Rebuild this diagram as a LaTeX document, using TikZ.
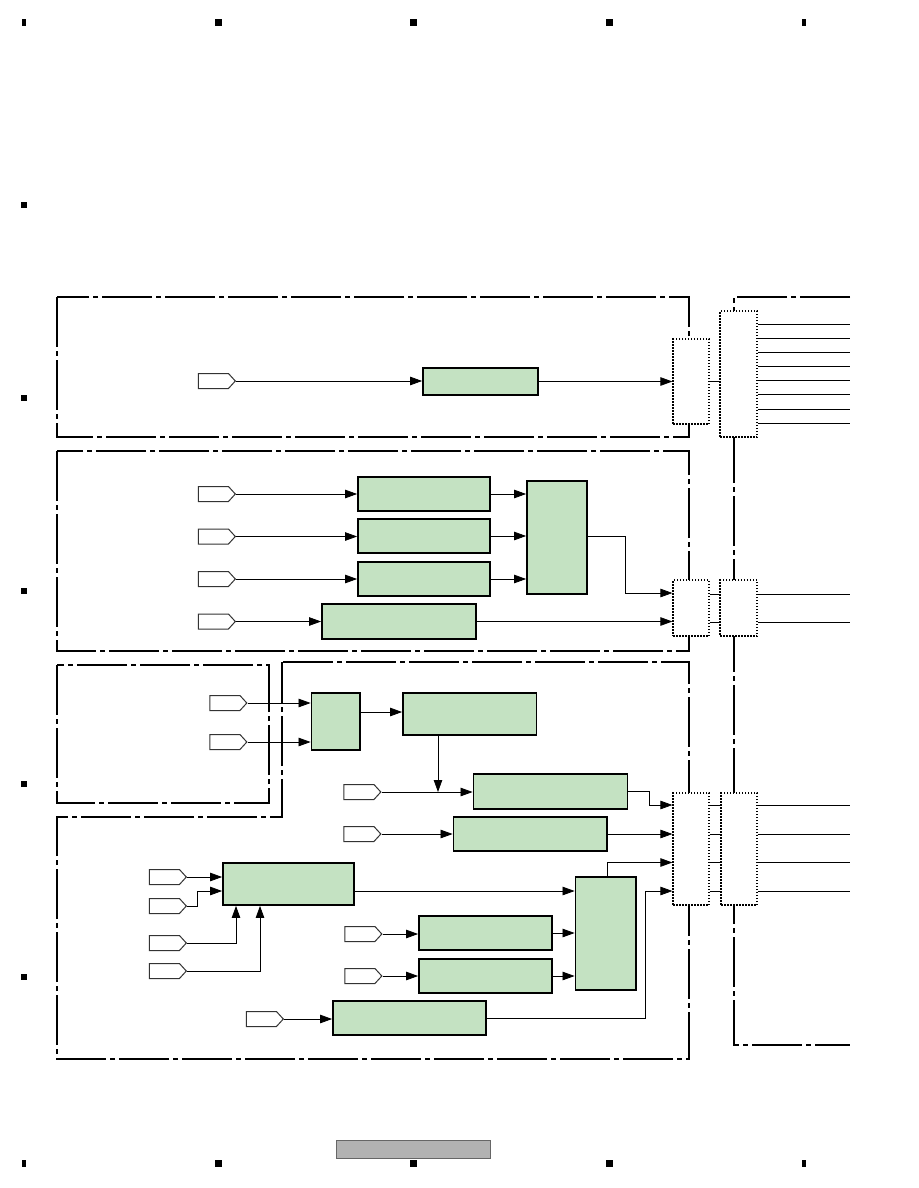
\documentclass[tikz,border=0pt]{standalone}
\usetikzlibrary{arrows.meta,shapes.symbols,fit}
\definecolor{gfill}{RGB}{196,226,194}
\begin{document}
\begin{tikzpicture}[x=1pt,y=-1pt,
 dd/.style={line width=2.4pt, dash pattern=on 50pt off 4pt on 5pt off 4pt},
 gbox/.style={draw=black,line width=1.8pt,fill=gfill,inner sep=0pt},
 cbox/.style={draw=black,line width=1.2pt,dash pattern=on 1.5pt off 1.5pt,fill=white,inner sep=0pt},
 tagbox/.style={draw=black!80,line width=1pt,fill=white,signal,signal to=east,signal pointer angle=95,minimum width=37pt,minimum height=15pt,inner sep=0pt,anchor=east},
 arr/.style={line width=0.75pt,-{Triangle[length=12pt,width=8.5pt]}},
 ln/.style={line width=0.75pt}]
\useasboundingbox[fill=white] (0,0) rectangle (918,1188);

% corner / edge markers
\foreach \cx/\w in {23.75/3.5,218/7,413/7,609/7,803.75/3.5}{
  \fill (\cx-\w/2,19) rectangle (\cx+\w/2,26);
  \fill (\cx-\w/2,1160) rectangle (\cx+\w/2,1167);
}
\foreach \cy in {205,398,591,784,977}{
  \fill (21,\cy-3) rectangle (27,\cy+3);
}
\node[fill=black!30,draw=black!60,line width=0.8pt,inner sep=0pt,fit={(336,1140)(490,1158)}] (gb) {};

% dash-dot section frames
\draw[dd] (57,297) rectangle (689,437);
\draw[dd] (57,451) rectangle (689,651);
\draw[dd] (57,665) rectangle (269,803);
\draw[dd] (283,662) -- (689,662) -- (689,1059) -- (57,1059) -- (57,817) -- (282,817) -- (282,662);
\draw[dd] (850,297) -- (734,297) -- (734,1045) -- (850,1045);

% ---------- section A ----------
\node[tagbox] (ta) at (236,381) {};
\node[gbox,fit={(423,368)(538,395)}] (a1) {};
\node[cbox,fit={(673,339)(709,424)}] (x1) {};
\node[cbox,fit={(720,311)(757,437)}] (y1) {};
\draw[arr] (ta.east) -- (ta.east -| a1.west);
\draw[arr] (a1.east) -- (a1.east -| x1.west);
\draw[ln] (x1.east |- a1.east) -- (y1.west |- a1.east);
\foreach \i/\yy in {1/324,2/338.5,3/352.5,4/366.5,5/380.5,6/394.5,7/409,8/423}{
  \coordinate (oa\i) at (850,\yy);
  \draw[ln] (y1.east |- oa\i) -- (oa\i);
}

% ---------- section B ----------
\node[tagbox] (tb1) at (236,494) {};
\node[tagbox] (tb2) at (236,536.5) {};
\node[tagbox] (tb3) at (236,579) {};
\node[tagbox] (tb4) at (236,621.5) {};
\node[gbox,fit={(358,477)(490,511)}] (b1) {};
\node[gbox,fit={(358,519)(490,553)}] (b2) {};
\node[gbox,fit={(358,562)(490,596)}] (b3) {};
\node[gbox,fit={(322,604)(476,639)}] (b4) {};
\node[gbox,fit={(527,481)(587,594)}] (b5) {};
\node[cbox,fit={(673,580)(709,636)}] (x2) {};
\node[cbox,fit={(720,580)(757,636)}] (y2) {};
\draw[arr] (tb1.east) -- (tb1.east -| b1.west);
\draw[arr] (tb2.east) -- (tb2.east -| b2.west);
\draw[arr] (tb3.east) -- (tb3.east -| b3.west);
\draw[arr] (tb4.east) -- (tb4.east -| b4.west);
\draw[arr] (b1.east) -- (b1.east -| b5.west);
\draw[arr] (b2.east) -- (b2.east -| b5.west);
\draw[arr] (b3.east) -- (b3.east -| b5.west);
\coordinate (kb) at (625,593);
\draw[arr] (b5.east |- b2.east) -| (kb) -- (kb -| x2.west);
\draw[arr] (b4.east) -- (b4.east -| x2.west);
\coordinate (ob1) at (850,594);
\coordinate (ob2) at (850,622);
\draw[ln] (x2.east |- ob1) -- (y2.west |- ob1);
\draw[ln] (x2.east |- ob2) -- (y2.west |- ob2);
\draw[ln] (y2.east |- ob1) -- (ob1);
\draw[ln] (y2.east |- ob2) -- (ob2);

% ---------- sections C / D ----------
\node[tagbox] (tc1) at (247.5,703) {};
\node[tagbox] (tc2) at (247.5,742) {};
\node[gbox,fit={(311.5,693)(360,750)}] (d1) {};
\node[gbox,fit={(403,693)(536.5,735)}] (d2) {};
\draw[arr] (tc1.east) -- (tc1.east -| d1.west);
\draw[arr] (tc2.east) -- (tc2.east -| d1.west);
\coordinate (k2) at (380,712);
\draw[arr] (d1.east |- k2) -- (k2 -| d2.west);

\node[tagbox] (td1) at (381.5,792) {};
\node[gbox,fit={(473.5,774)(627.5,809)}] (d3) {};
\node[tagbox] (td2) at (381.5,834) {};
\node[gbox,fit={(453.5,817)(607,851)}] (d4) {};
\node[cbox,fit={(673,793)(709,905)}] (x3) {};
\node[cbox,fit={(721,793)(757,905)}] (y3) {};
\draw[arr] (td1.east) -- (td1.east -| d3.west);
\coordinate (k3) at (438,792);
\draw[arr] (d2.south -| k3) -- (k3);
\coordinate (k4) at (649,805);
\draw[arr] (d3.east) -| (k4) -- (k4 -| x3.west);
\draw[arr] (td2.east) -- (td2.east -| d4.west);
\draw[arr] (d4.east) -- (d4.east -| x3.west);

\node[tagbox] (te1) at (187,877) {};
\node[tagbox] (te2) at (187,906) {};
\node[tagbox] (te3) at (187,943) {};
\node[tagbox] (te4) at (187,971) {};
\node[gbox,fit={(223,863)(354,905)}] (d5) {};
\node[gbox,fit={(575.5,877)(636,990)}] (d7) {};
\node[tagbox] (te5) at (382.5,934) {};
\node[tagbox] (te6) at (382.5,976) {};
\node[gbox,fit={(419,916)(552,950)}] (d6a) {};
\node[gbox,fit={(419,959)(552,993)}] (d6b) {};
\node[tagbox] (te7) at (284,1019) {};
\node[gbox,fit={(333,1001)(486,1035)}] (d8) {};

\draw[arr] (te1.east) -- (te1.east -| d5.west);
\coordinate (k5) at (197,891);
\draw[arr] (te2.east) -| (k5) -- (k5 -| d5.west);
\coordinate (k6) at (236,943);
\draw[arr] (te3.east) -- (k6) -- (k6 |- d5.south);
\coordinate (k7) at (260,971);
\draw[arr] (te4.east) -- (k7) -- (k7 |- d5.south);
\draw[arr] (d5.east |- k5) -- (k5 -| d7.west);
\draw[arr] (te5.east) -- (te5.east -| d6a.west);
\draw[arr] (te6.east) -- (te6.east -| d6b.west);
\draw[arr] (d6a.east) -- (d6a.east -| d7.west);
\draw[arr] (d6b.east) -- (d6b.east -| d7.west);
\coordinate (k8) at (607.5,862.5);
\draw[arr] (d7.north -| k8) -- (k8) -- (k8 -| x3.west);
\draw[arr] (te7.east) -- (te7.east -| d8.west);
\coordinate (k9) at (645.5,891);
\draw[arr] (d8.east) -| (k9) -- (k9 -| x3.west);

\foreach \i/\yy in {1/805,2/834,3/862.5,4/891}{
  \coordinate (od\i) at (850,\yy);
  \draw[ln] (x3.east |- od\i) -- (y3.west |- od\i);
  \draw[ln] (y3.east |- od\i) -- (od\i);
}
\end{tikzpicture}
\end{document}
